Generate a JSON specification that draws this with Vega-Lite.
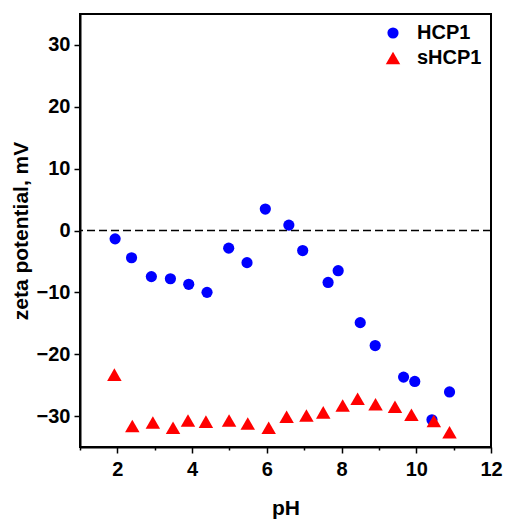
{
  "$schema": "https://vega.github.io/schema/vega-lite/v6.json",
  "width": 411,
  "height": 433,
  "autosize": {"type": "none"},
  "padding": {"left": 80, "top": 14, "right": 16, "bottom": 73},
  "background": "white",
  "config": {
    "view": {"stroke": "black", "strokeWidth": 2},
    "font": "Liberation Sans",
    "axis": {
      "domainColor": "black", "domainWidth": 2, "tickColor": "black", "tickWidth": 1.5,
      "labelFont": "Liberation Sans", "labelFontWeight": "bold", "labelFontSize": 20, "labelColor": "black",
      "titleFont": "Liberation Sans", "titleFontWeight": "bold", "titleFontSize": 21, "titleColor": "black",
      "grid": false
    },
    "legend": {"labelFont": "Liberation Sans", "labelFontWeight": "bold", "labelFontSize": 20, "labelColor": "black"}
  },
  "datasets": {
    "zeta": [
      {"pH": 1.94, "zeta": -1.35, "sample": "HCP1"},
      {"pH": 2.38, "zeta": -4.4, "sample": "HCP1"},
      {"pH": 2.91, "zeta": -7.45, "sample": "HCP1"},
      {"pH": 3.42, "zeta": -7.8, "sample": "HCP1"},
      {"pH": 3.91, "zeta": -8.7, "sample": "HCP1"},
      {"pH": 4.4, "zeta": -10.0, "sample": "HCP1"},
      {"pH": 4.98, "zeta": -2.85, "sample": "HCP1"},
      {"pH": 5.47, "zeta": -5.2, "sample": "HCP1"},
      {"pH": 5.96, "zeta": 3.47, "sample": "HCP1"},
      {"pH": 6.59, "zeta": 0.87, "sample": "HCP1"},
      {"pH": 6.96, "zeta": -3.24, "sample": "HCP1"},
      {"pH": 7.64, "zeta": -8.4, "sample": "HCP1"},
      {"pH": 7.91, "zeta": -6.5, "sample": "HCP1"},
      {"pH": 8.5, "zeta": -14.9, "sample": "HCP1"},
      {"pH": 8.9, "zeta": -18.6, "sample": "HCP1"},
      {"pH": 9.66, "zeta": -23.7, "sample": "HCP1"},
      {"pH": 9.96, "zeta": -24.4, "sample": "HCP1"},
      {"pH": 10.42, "zeta": -30.6, "sample": "HCP1"},
      {"pH": 10.89, "zeta": -26.1, "sample": "HCP1"},
      {"pH": 1.92, "zeta": -23.3, "sample": "sHCP1"},
      {"pH": 2.4, "zeta": -31.6, "sample": "sHCP1"},
      {"pH": 2.95, "zeta": -31.05, "sample": "sHCP1"},
      {"pH": 3.49, "zeta": -31.9, "sample": "sHCP1"},
      {"pH": 3.89, "zeta": -30.7, "sample": "sHCP1"},
      {"pH": 4.37, "zeta": -30.9, "sample": "sHCP1"},
      {"pH": 4.99, "zeta": -30.7, "sample": "sHCP1"},
      {"pH": 5.49, "zeta": -31.2, "sample": "sHCP1"},
      {"pH": 6.05, "zeta": -31.9, "sample": "sHCP1"},
      {"pH": 6.53, "zeta": -30.1, "sample": "sHCP1"},
      {"pH": 7.06, "zeta": -29.9, "sample": "sHCP1"},
      {"pH": 7.51, "zeta": -29.4, "sample": "sHCP1"},
      {"pH": 8.03, "zeta": -28.3, "sample": "sHCP1"},
      {"pH": 8.43, "zeta": -27.2, "sample": "sHCP1"},
      {"pH": 8.91, "zeta": -28.1, "sample": "sHCP1"},
      {"pH": 9.43, "zeta": -28.5, "sample": "sHCP1"},
      {"pH": 9.87, "zeta": -29.8, "sample": "sHCP1"},
      {"pH": 10.47, "zeta": -30.8, "sample": "sHCP1"},
      {"pH": 10.89, "zeta": -32.6, "sample": "sHCP1"}
    ],
    "zero": [{"level": 0}]
  },
  "layer": [
    {
      "data": {"name": "zero"},
      "mark": {"type": "rule", "color": "black", "strokeWidth": 1.5, "strokeDash": [8, 4]},
      "encoding": {
        "y": {"field": "level", "type": "quantitative"}
      }
    },
    {
      "data": {"name": "zeta"},
      "mark": {"type": "point", "filled": true, "opacity": 1},
      "encoding": {
        "x": {
          "field": "pH", "type": "quantitative",
          "scale": {"domain": [1, 12], "nice": false, "zero": false},
          "axis": {
            "title": "pH", "values": [1, 2, 3, 4, 5, 6, 7, 8, 9, 10, 11, 12],
            "labelExpr": "datum.value % 2 === 0 ? datum.label : ''",
            "tickSize": {"condition": {"test": "datum.value % 2 === 0", "value": 6}, "value": 3},
            "labelPadding": 6, "titlePadding": 18, "labelFlush": false
          }
        },
        "y": {
          "field": "zeta", "type": "quantitative",
          "scale": {"domain": [-35, 35], "nice": false, "zero": false},
          "axis": {
            "title": "zeta potential, mV", "values": [-30, -20, -10, 0, 10, 20, 30],
            "tickSize": 6, "labelPadding": 4, "titlePadding": 5
          }
        },
        "color": {
          "field": "sample", "type": "nominal",
          "scale": {"domain": ["HCP1", "sHCP1"], "range": ["#0000FF", "#FF0000"]},
          "legend": {
            "title": null, "orient": "none", "legendX": 303, "legendY": 9,
            "symbolSize": 180, "labelOffset": 14, "rowPadding": 5, "symbolStrokeWidth": 0
          }
        },
        "shape": {
          "field": "sample", "type": "nominal",
          "scale": {"domain": ["HCP1", "sHCP1"], "range": ["circle", "triangle-up"]}
        },
        "size": {
          "field": "sample", "type": "nominal",
          "scale": {"domain": ["HCP1", "sHCP1"], "range": [125, 210]},
          "legend": null
        }
      }
    }
  ]
}
